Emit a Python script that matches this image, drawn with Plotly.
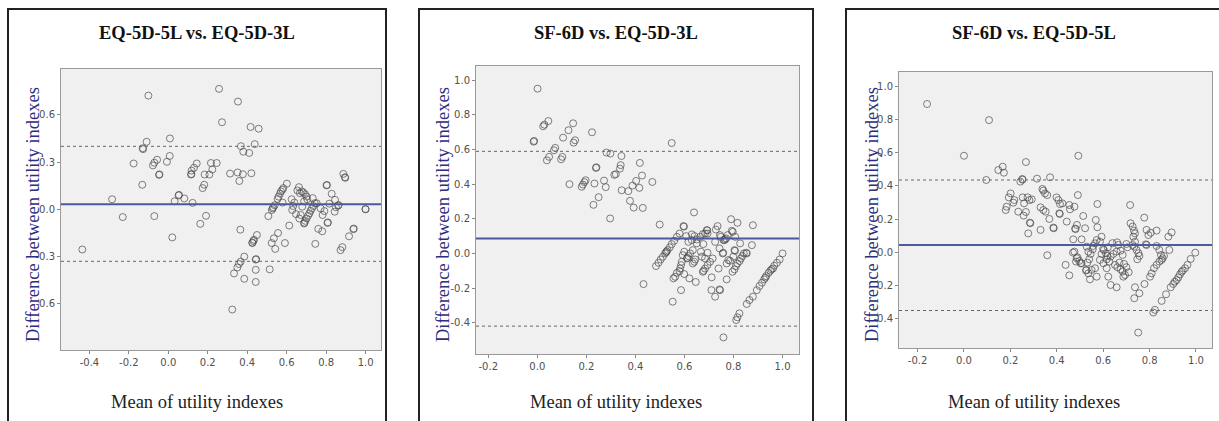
import plotly.graph_objects as go

# ---------------- data ----------------
titles = ["EQ-5D-5L vs. EQ-5D-3L", "SF-6D vs. EQ-5D-3L", "SF-6D vs. EQ-5D-5L"]
x_title = "Mean of utility indexes"
y_title = "Difference between utility indexes"

mean_diff = [0.032, 0.087, 0.044]
upper_loa = [0.400, 0.590, 0.436]
lower_loa = [-0.330, -0.420, -0.351]

p1_mean = [-0.436, -0.285, -0.231, -0.176, -0.132, -0.130, -0.128, -0.110, -0.101, -0.078,
           -0.071, -0.057, -0.071, -0.047, -0.045, -0.007, 0.007, 0.008, 0.020, 0.032,
           0.052, 0.054, 0.081, 0.115, 0.117, 0.118, 0.130, 0.144, 0.123, 0.162,
           0.174, 0.182, 0.184, 0.191, 0.208, 0.216, 0.223, 0.245, 0.257, 0.272,
           0.313, 0.324, 0.333, 0.350, 0.358, 0.367, 0.351, 0.360, 0.353, 0.365,
           0.368, 0.380, 0.378, 0.385, 0.385, 0.410, 0.417, 0.421, 0.426, 0.431,
           0.434, 0.438, 0.443, 0.445, 0.443, 0.443, 0.449, 0.458, 0.507, 0.514,
           0.524, 0.535, 0.542, 0.556, 0.525, 0.529, 0.532, 0.539, 0.554, 0.559,
           0.566, 0.571, 0.578, 0.583, 0.579, 0.591, 0.601, 0.613, 0.625, 0.628,
           0.633, 0.639, 0.647, 0.654, 0.662, 0.667, 0.676, 0.684, 0.693, 0.701,
           0.664, 0.671, 0.679, 0.688, 0.688, 0.694, 0.701, 0.708, 0.715, 0.721,
           0.728, 0.735, 0.742, 0.732, 0.745, 0.752, 0.760, 0.780, 0.772, 0.782,
           0.791, 0.802, 0.807, 0.816, 0.828, 0.843, 0.850, 0.845, 0.861, 0.873,
           0.882, 0.887, 0.895, 0.916, 0.938, 1.000, 0.897, 0.940, 0.999, 0.704,
           0.804, 0.809, 0.863, 0.426, 0.690]
p1_diff = [-0.255, 0.064, -0.049, 0.291, 0.156, 0.388, 0.382, 0.429, 0.722, 0.279,
           0.296, 0.315, -0.043, 0.219, 0.222, 0.302, 0.339, 0.450, -0.178, 0.051,
           0.088, 0.092, 0.069, 0.221, 0.224, 0.246, 0.264, 0.291, 0.041, -0.092,
           0.135, 0.156, 0.221, -0.041, 0.221, 0.294, 0.253, 0.294, 0.765, 0.553,
           0.227, -0.636, -0.407, -0.369, -0.347, -0.332, 0.234, 0.180, 0.684, -0.129,
           0.401, 0.366, 0.223, -0.300, -0.441, 0.358, 0.523, 0.229, -0.214, -0.201,
           -0.193, 0.414, -0.319, -0.316, -0.384, -0.461, -0.163, 0.512, -0.043, -0.381,
           -0.214, -0.184, -0.251, -0.150, -0.004, 0.006, 0.013, 0.026, 0.066, 0.081,
           0.099, 0.114, 0.124, 0.135, 0.043, -0.214, 0.163, -0.103, 0.064, -0.004,
           0.021, 0.043, -0.030, 0.120, 0.141, 0.103, 0.114, 0.107, 0.096, 0.081,
           -0.058, -0.036, 0.017, 0.051, -0.090, -0.073, -0.058, -0.041, -0.026, -0.009,
           0.006, 0.021, 0.039, 0.071, -0.219, 0.039, -0.124, -0.139, 0.006, -0.036,
           -0.011, 0.152, -0.086, 0.036, 0.099, -0.015, 0.013, 0.060, 0.024, -0.259,
           -0.240, 0.225, 0.204, -0.171, -0.126, 0.000, 0.200, -0.122, 0.002, 0.064,
           0.155, -0.083, 0.027, -0.211, -0.085]

p2_mean = [0.001, -0.015, -0.013, 0.024, 0.029, 0.045, 0.039, 0.048, 0.068, 0.073,
           0.097, 0.102, 0.105, 0.127, 0.131, 0.146, 0.148, 0.154, 0.181, 0.186,
           0.192, 0.197, 0.223, 0.229, 0.233, 0.239, 0.241, 0.250, 0.272, 0.279,
           0.282, 0.298, 0.297, 0.314, 0.320, 0.337, 0.340, 0.343, 0.344, 0.371,
           0.378, 0.388, 0.393, 0.403, 0.416, 0.418, 0.427, 0.430, 0.433, 0.469,
           0.499, 0.548,
           0.639, 0.596, 0.598, 0.790, 0.816, 0.879, 0.735, 0.728, 0.691, 0.693,
           0.684, 0.793, 0.797,
           0.484, 0.494, 0.503, 0.512, 0.521, 0.531, 0.540, 0.548, 0.558, 0.569,
           0.580, 0.525, 0.527,
           0.607, 0.630, 0.641, 0.650, 0.664, 0.675, 0.694, 0.616, 0.630, 0.650,
           0.677, 0.725, 0.745, 0.759, 0.770, 0.776, 0.807, 0.827, 0.875, 0.743,
           0.756, 0.758, 0.804, 0.806, 0.852, 0.854,
           0.623, 0.616, 0.610, 0.612, 0.599, 0.593, 0.634, 0.667, 0.694, 0.684,
           0.671,
           0.715, 0.704, 0.694, 0.684, 0.675, 0.678,
           0.644, 0.640, 0.634, 0.589, 0.586, 0.582, 0.580, 0.569, 0.562, 0.555,
           0.599, 0.620, 0.646, 0.586, 0.552,
           0.779, 0.772, 0.786, 0.799, 0.830, 0.825, 0.816, 0.810, 0.804, 0.796,
           0.842, 0.836,
           0.739, 0.772, 0.711, 0.710, 0.725, 0.745, 0.743, 0.759,
           0.811, 0.816, 0.824, 0.854, 0.865, 0.879, 0.895, 0.906, 0.916, 0.925,
           0.933, 0.943, 0.950, 0.961, 0.966, 0.977, 0.988, 1.000, 0.930, 0.955,
           0.763, 0.766, 0.748]
p2_diff = [0.952, 0.646, 0.650, 0.735, 0.744, 0.765, 0.538, 0.558, 0.596, 0.610,
           0.544, 0.558, 0.669, 0.712, 0.400, 0.752, 0.640, 0.654, 0.385, 0.398,
           0.412, 0.423, 0.700, 0.281, 0.404, 0.494, 0.498, 0.325, 0.421, 0.383,
           0.583, 0.577, 0.202, 0.454, 0.458, 0.490, 0.510, 0.563, 0.365, 0.360,
           0.304, 0.392, 0.265, 0.419, 0.379, 0.523, 0.450, 0.263, -0.177, 0.413,
           0.167, 0.638,
           0.237, 0.158, 0.155, 0.198, 0.177, 0.163, 0.158, 0.138, 0.135, 0.133,
           0.115, 0.131, 0.125,
           -0.073, -0.054, -0.035, -0.019, 0.000, 0.019, 0.035, 0.054, 0.073, 0.096,
           0.115, 0.006, 0.012,
           0.100, 0.110, 0.100, 0.081, 0.096, 0.112, 0.115, 0.067, 0.077, 0.058,
           0.054, 0.067, 0.106, 0.077, 0.087, 0.106, 0.096, 0.058, 0.048, 0.029,
           0.000, 0.004, 0.019, 0.015, 0.004, 0.000,
           0.000, -0.015, -0.029, -0.025, 0.010, -0.010, 0.019, 0.010, 0.004, -0.029,
           -0.019,
           -0.029, -0.048, -0.067, -0.087, -0.106, -0.100,
           -0.035, -0.048, -0.058, -0.048, -0.067, -0.087, -0.102, -0.112, -0.135, -0.144,
           -0.119, -0.144, -0.165, -0.212, -0.279,
           -0.038, -0.058, -0.042, -0.019, -0.029, -0.044, -0.058, -0.073, -0.092, -0.106,
           0.000, -0.015,
           -0.087, -0.150, -0.138, -0.212, -0.250, -0.212, -0.208, -0.485,
           -0.385, -0.369, -0.346, -0.292, -0.269, -0.250, -0.212, -0.188, -0.169, -0.150,
           -0.131, -0.112, -0.100, -0.087, -0.071, -0.054, -0.035, 0.000, -0.140, -0.092,
           0.077, 0.082, 0.096]

p3_mean = [-0.159, 0.108, 0.000, 0.096, 0.148, 0.167, 0.172, 0.267, 0.371, 0.315,
           0.243, 0.251, 0.253, 0.493, 0.491,
           0.184, 0.193, 0.201, 0.180, 0.213, 0.217, 0.234, 0.253, 0.259, 0.274,
           0.282, 0.292, 0.257, 0.267, 0.284, 0.286, 0.277, 0.330, 0.338, 0.342,
           0.349, 0.330, 0.342, 0.352, 0.359, 0.368, 0.359, 0.385, 0.387, 0.399,
           0.407, 0.414, 0.411, 0.413, 0.424, 0.443, 0.438, 0.454, 0.454, 0.457,
           0.476, 0.479, 0.481, 0.471, 0.476, 0.487, 0.507, 0.514, 0.522, 0.486,
           0.497, 0.507, 0.568, 0.575, 0.575,
           0.470, 0.489, 0.483, 0.503, 0.529, 0.536, 0.546, 0.555, 0.540, 0.532,
           0.526, 0.528, 0.536, 0.543, 0.550, 0.565,
           0.572, 0.565, 0.557, 0.586, 0.601, 0.593, 0.603, 0.612, 0.618, 0.615,
           0.626, 0.615, 0.622, 0.632, 0.644, 0.658, 0.665, 0.675, 0.684, 0.651,
           0.661, 0.670, 0.675, 0.684, 0.694, 0.687, 0.632, 0.658, 0.586, 0.593,
           0.716, 0.718, 0.727, 0.733, 0.737, 0.730, 0.737, 0.727, 0.734, 0.744,
           0.752, 0.756, 0.747, 0.777, 0.787, 0.795, 0.805, 0.830, 0.784, 0.787,
           0.830, 0.881, 0.895, 0.885, 0.842, 0.849, 0.856, 0.842, 0.862, 0.852,
           0.830, 0.819, 0.809, 0.802, 0.778, 0.756, 0.734, 0.737, 0.816, 0.823,
           0.751,
           0.852, 0.871, 0.891, 0.902, 0.909, 0.924, 0.931, 0.943, 0.953, 0.963,
           0.977, 0.997, 0.917, 0.938,
           0.572, 0.620, 0.640, 0.700, 0.705, 0.690, 0.700, 0.600, 0.660, 0.710]
p3_diff = [0.894, 0.797, 0.582, 0.436, 0.496, 0.516, 0.480, 0.544, 0.452, 0.444,
           0.426, 0.442, 0.438, 0.582, 0.345,
           0.275, 0.331, 0.355, 0.255, 0.299, 0.315, 0.245, 0.331, 0.295, 0.331,
           0.315, 0.319, 0.221, 0.243, 0.179, 0.175, 0.114, 0.135, 0.382, 0.372,
           0.355, 0.271, 0.255, 0.245, 0.345, 0.201, -0.018, 0.149, 0.145, 0.331,
           0.315, 0.291, 0.235, 0.231, 0.295, 0.185, -0.076, -0.139, 0.285, 0.259,
           0.275, 0.143, 0.140, 0.078, 0.004, 0.165, 0.078, 0.219, 0.145, -0.036,
           -0.052, -0.066, 0.195, 0.151, 0.291,
           -0.002, -0.030, -0.056, -0.066, 0.034, 0.004, -0.010, 0.018, -0.042, -0.062,
           -0.110, -0.106, -0.127, -0.163, -0.106, -0.096,
           0.074, 0.054, 0.038, -0.046, -0.066, -0.010, 0.014, -0.006, -0.022, -0.042,
           -0.056, -0.096, -0.147, -0.026, -0.010, 0.004, 0.044, 0.010, -0.016, -0.076,
           -0.090, -0.062, -0.102, -0.116, -0.137, -0.147, -0.197, -0.211, 0.064, 0.094,
           0.285, 0.175, 0.155, 0.131, 0.114, 0.094, 0.064, 0.044, 0.034, 0.014,
           -0.006, -0.022, -0.042, 0.209, 0.135, 0.104, 0.118, 0.131, 0.048, 0.044,
           0.038, 0.094, 0.120, 0.014, 0.014, -0.016, -0.036, -0.056, -0.022, -0.046,
           -0.076, -0.096, -0.127, -0.147, -0.191, -0.247, -0.277, -0.211, -0.363, -0.347,
           -0.484,
           -0.293, -0.253, -0.211, -0.191, -0.177, -0.151, -0.133, -0.110, -0.096, -0.076,
           -0.040, -0.002, -0.167, -0.118,
           -0.147, 0.030, 0.055, 0.050, 0.030, -0.070, -0.090, 0.020, 0.060, -0.120]

x_ticks = [[-0.4, -0.2, 0.0, 0.2, 0.4, 0.6, 0.8, 1.0],
           [-0.2, 0.0, 0.2, 0.4, 0.6, 0.8, 1.0],
           [-0.2, 0.0, 0.2, 0.4, 0.6, 0.8, 1.0]]
y_ticks = [[-0.6, -0.3, 0.0, 0.3, 0.6],
           [-0.4, -0.2, 0.0, 0.2, 0.4, 0.6, 0.8, 1.0],
           [-0.4, -0.2, 0.0, 0.2, 0.4, 0.6, 0.8, 1.0]]

# ---------------- layout geometry ----------------
W, H = 1219, 421
x_ranges = [[-0.544, 1.078], [-0.250, 1.067], [-0.280, 1.069]]
y_ranges = [[-0.893, 0.891], [-0.581, 1.083], [-0.577, 1.087]]
plot_px = [(61, 381, 69, 350), (476, 799, 66, 354), (899, 1212, 72, 348)]   # l, r, t, b
panel_px = [(8, 386), (419, 813), (846, 1230)]
ytitle_x = [33, 443, 872]

def fmt(v):
    return ("-" if v < 0 else "") + f"{abs(v):.1f}"

fig = go.Figure()
means = [p1_mean, p2_mean, p3_mean]
diffs = [p1_diff, p2_diff, p3_diff]
serif = "Liberation Serif, Times New Roman, serif"
tickfont = dict(size=10, color="#505050", family="DejaVu Sans")

for i in range(3):
    sfx = "" if i == 0 else str(i + 1)
    fig.add_trace(go.Scatter(
        x=means[i], y=diffs[i], mode="markers",
        xaxis="x" + sfx, yaxis="y" + sfx, showlegend=False, hoverinfo="skip",
        marker=dict(symbol="circle-open", size=7,
                    color="rgba(75,75,75,0.7)", line=dict(width=1))))
    l, r, t, b = plot_px[i]
    common = dict(showgrid=False, zeroline=False, showline=True, mirror=True,
                  linecolor="#9a9a9a", linewidth=1, ticks="outside", ticklen=3,
                  tickcolor="#888", tickfont=tickfont)
    fig.update_layout(**{
        "xaxis" + sfx: dict(domain=[l / W, r / W], range=x_ranges[i], anchor="y" + sfx,
                            tickvals=x_ticks[i], ticktext=[fmt(v) for v in x_ticks[i]], **common),
        "yaxis" + sfx: dict(domain=[1 - b / H, 1 - t / H], range=y_ranges[i], anchor="x" + sfx,
                            tickvals=y_ticks[i], ticktext=[fmt(v) for v in y_ticks[i]], **common),
    })
    xr = "x" + sfx
    yr = "y" + sfx
    # reference lines
    fig.add_shape(type="line", xref=xr + " domain", yref=yr, x0=0, x1=1,
                  y0=upper_loa[i], y1=upper_loa[i], line=dict(color="#666", width=1, dash="dot"))
    fig.add_shape(type="line", xref=xr + " domain", yref=yr, x0=0, x1=1,
                  y0=lower_loa[i], y1=lower_loa[i], line=dict(color="#666", width=1, dash="dot"))
    fig.add_shape(type="line", xref=xr + " domain", yref=yr, x0=0, x1=1,
                  y0=mean_diff[i], y1=mean_diff[i], line=dict(color="#4a5a9c", width=2))
    # panel frame
    pl, pr = panel_px[i]
    fig.add_shape(type="rect", xref="paper", yref="paper",
                  x0=pl / W, x1=pr / W, y0=-0.05, y1=1 - 9 / H,
                  line=dict(color="#222", width=2), layer="below")
    cx = (pl + min(pr, 1222)) / 2 / W
    # title
    fig.add_annotation(xref="paper", yref="paper", x=cx, y=1 - 33 / H,
                       text="<b>" + titles[i] + "</b>", showarrow=False,
                       font=dict(family=serif, size=18.5, color="#111"),
                       xanchor="center", yanchor="middle")
    # x title
    fig.add_annotation(xref="paper", yref="paper", x=cx, y=1 - 402 / H,
                       text=x_title, showarrow=False,
                       font=dict(family=serif, size=18.5, color="#222"),
                       xanchor="center", yanchor="middle")
    # y title
    fig.add_annotation(xref="paper", yref="paper", x=ytitle_x[i] / W, y=1 - 215 / H,
                       text=y_title, showarrow=False, textangle=-90,
                       font=dict(family=serif, size=18.5, color="#2d2d80"),
                       xanchor="center", yanchor="middle")

fig.update_layout(width=W, height=H, margin=dict(l=0, r=0, t=0, b=0),
                  paper_bgcolor="white", plot_bgcolor="#f0f0f0", hovermode=False)
fig.write_html("out.html", config={"displayModeBar": False},
               post_script="document.body.style.margin='0';document.body.style.overflow='hidden';")
